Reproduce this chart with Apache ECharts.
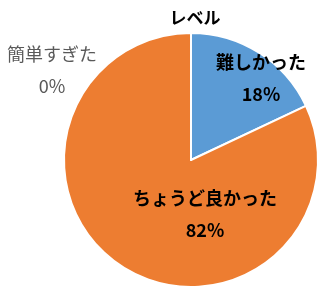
<!DOCTYPE html>
<html><head><meta charset="utf-8">
<script src="https://cdn.jsdelivr.net/npm/echarts@6/dist/echarts.min.js"></script>
<style>html,body{margin:0;padding:0;background:#fff}#c{width:333px;height:290px}</style>
</head><body><div id="c"></div>
<script>
var title = 'レベル';
var categories = ['難しかった', 'ちょうど良かった', '簡単すぎた'];
var values = [18, 82, 0];
var colors = ['#5B9BD5', '#ED7D31', '#A5A5A5'];

var labelPos = [[261, 78], [205, 214], [52, 70]];
var chart = echarts.init(document.getElementById('c'), null, {renderer: 'canvas'});
chart.setOption({
  animation: false,
  title: {text: title, left: 190, top: 4, textAlign: 'center',
    textStyle: {fontFamily: 'Noto Sans CJK JP', fontSize: 17, fontWeight: 'bold', color: '#000'}},
  series: [{
    type: 'pie',
    center: [191, 160],
    radius: [0, 127],
    startAngle: 90,
    clockwise: true,
    stillShowZeroSum: true,
    minShowLabelAngle: 0,
    itemStyle: {borderColor: '#fff', borderWidth: 2},
    label: {
      show: true, position: 'inside',
      formatter: function (p) { return p.name + '\n' + p.percent.toFixed(0) + '%'; },
      fontFamily: 'Noto Sans CJK JP', fontSize: 18, fontWeight: 'bold', color: '#000', lineHeight: 32
    },
    labelLine: {show: false},
    labelLayout: function (p) {
      var pos = labelPos[p.dataIndex];
      return {x: pos[0], y: pos[1], align: 'center', verticalAlign: 'middle'};
    },
    data: categories.map(function (c, i) {
      var d = {name: c, value: values[i], itemStyle: {color: colors[i]}};
      if (i === 2) d.label = {fontWeight: 'normal', color: '#595959'};
      return d;
    })
  }]
});
</script></body></html>
